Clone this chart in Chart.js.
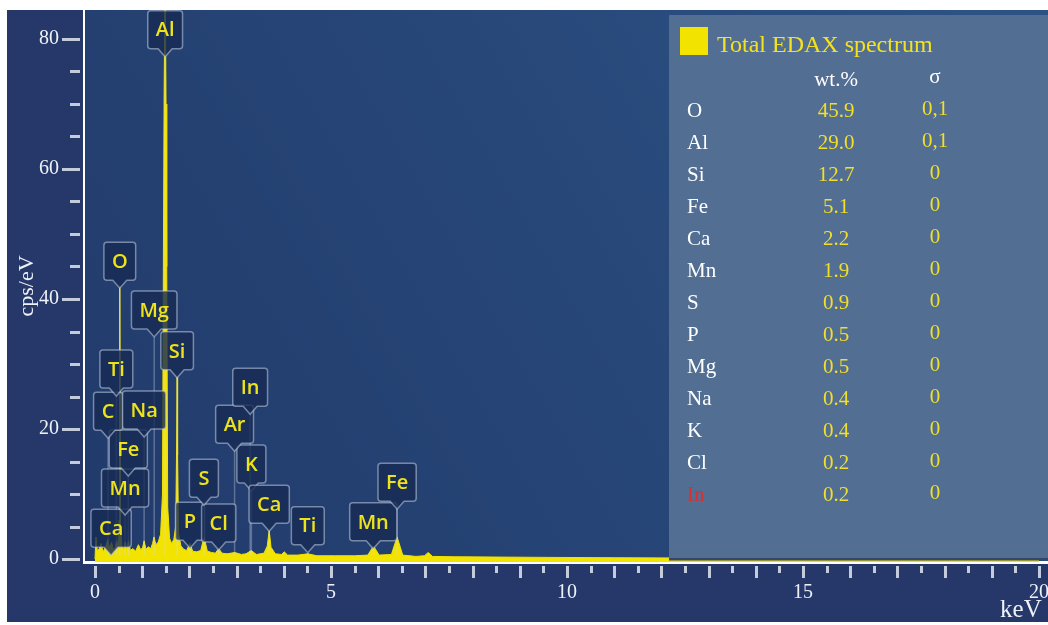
<!DOCTYPE html>
<html>
<head>
<meta charset="utf-8">
<title>Total EDAX spectrum</title>
<script src="https://cdn.jsdelivr.net/npm/chart.js@4.4.1/dist/chart.umd.min.js"></script>
<style>
  html, body { margin: 0; padding: 0; background: #ffffff; }
</style>
</head>
<body>
<canvas id="edaxChart" width="1048" height="625"></canvas>
<script>
// spectrum (keV vs cps/eV)
var energies = [0, 0.02, 0.05, 0.09, 0.13, 0.17, 0.22, 0.27, 0.31, 0.35, 0.39, 0.43, 0.46, 0.49, 0.51, 0.525, 0.54,
  0.57, 0.61, 0.64, 0.67, 0.71, 0.75, 0.80, 0.86, 0.92, 0.97, 1.01, 1.04, 1.08, 1.13, 1.18, 1.22, 1.25, 1.29,
  1.34, 1.39, 1.43, 1.45, 1.465, 1.486, 1.505, 1.52, 1.54, 1.58, 1.62, 1.67, 1.71, 1.73, 1.74, 1.75, 1.77,
  1.82, 1.88, 1.94, 2.01, 2.07, 2.15, 2.24, 2.31, 2.38, 2.47, 2.55, 2.62, 2.69, 2.8, 2.96, 3.1, 3.2, 3.31,
  3.42, 3.58, 3.65, 3.69, 3.73, 3.82, 3.95, 4.01, 4.08, 4.3, 4.51, 4.7, 5.1, 5.5, 5.78, 5.9, 6.02, 6.28,
  6.4, 6.52, 6.8, 6.98, 7.06, 7.15, 7.6, 8.5, 9.6, 11, 12.5, 14, 16, 18, 20];
var counts = [0, 3.4, 1.2, 1.6, 2.4, 1.1, 1.8, 3.0, 1.6, 2.6, 1.4, 1.8, 2.8, 2.2, 6, 42, 5,
  2.0, 1.5, 2.6, 1.4, 2.8, 1.3, 1.6, 1.2, 2.2, 1.4, 1.8, 2.8, 1.5, 1.9, 1.6, 2.4, 3.4, 2.2,
  2.6, 3.8, 10, 48, 72, 90, 70, 45, 8, 3.2, 2.4, 3, 5, 18, 28, 16, 4,
  2, 1.5, 1.3, 2.4, 1.2, 1.1, 1.3, 3.4, 1.2, 1.0, 0.9, 1.6, 0.9, 0.8, 1.0, 0.7, 0.8, 1.3,
  0.7, 0.9, 2, 4.4, 1.8, 0.8, 0.7, 1.1, 0.6, 0.6, 0.8, 0.5, 0.5, 0.5, 0.6, 2.0, 0.6, 0.7,
  3.4, 0.6, 0.4, 0.5, 1.0, 0.4, 0.35, 0.3, 0.25, 0.2, 0.15, 0.1, 0.05, 0, 0];

// peak callouts: element, line energy (keV), height of the box bottom (cps/eV)
var peakNames = ['Ca', 'Mn', 'Fe', 'C', 'Na', 'Ti', 'Si', 'Mg', 'O', 'Al', 'P', 'Cl', 'S', 'K', 'Ar', 'In', 'Ca', 'Ti', 'Mn', 'Fe'];
var peakEnergies = [0.341, 0.637, 0.705, 0.277, 1.041, 0.452, 1.740, 1.254, 0.525, 1.486, 2.013, 2.621, 2.307, 3.313, 2.957, 3.287, 3.690, 4.508, 5.895, 6.400];
var peakLevels = [1.8, 8, 14, 19.8, 20, 26.3, 29.1, 35.4, 42.9, 78.5, 2.9, 2.6, 9.5, 11.7, 17.8, 23.5, 5.5, 2.2, 2.8, 8.9];

// quantification table
var tableElements = ['O', 'Al', 'Si', 'Fe', 'Ca', 'Mn', 'S', 'P', 'Mg', 'Na', 'K', 'Cl', 'In'];
var tableWt = ['45.9', '29.0', '12.7', '5.1', '2.2', '1.9', '0.9', '0.5', '0.5', '0.4', '0.4', '0.2', '0.2'];
var tableSigma = ['0,1', '0,1', '0', '0', '0', '0', '0', '0', '0', '0', '0', '0', '0'];

var xTickLabels = [0, 5, 10, 15, 20];
var yTickLabels = [0, 20, 40, 60, 80];

var yellow = '#f2e300';
var serif = "'Liberation Serif', 'Times New Roman', serif";

var spectrum = energies.map(function (e, i) { return { x: e, y: counts[i] }; });

function drawPanel(chart) {
  var ctx = chart.ctx, a = chart.chartArea;
  var px = a.right - 379, py = a.top + 5;
  ctx.save();
  ctx.fillStyle = '#526e93';
  ctx.fillRect(px, py, a.right - px, a.bottom - 4 - py);
  ctx.fillStyle = '#34486c';
  ctx.fillRect(px, a.bottom - 4, a.right - px, 2.5);
  // legend entry
  ctx.fillStyle = yellow;
  ctx.fillRect(px + 11, py + 12, 28, 28);
  ctx.font = '24px ' + serif;
  ctx.textBaseline = 'alphabetic';
  ctx.textAlign = 'left';
  ctx.fillStyle = '#f5e21e';
  ctx.fillText(chart.data.datasets[0].label, px + 48, py + 37);
  // header
  ctx.font = '21px ' + serif;
  ctx.fillStyle = '#ffffff';
  ctx.textAlign = 'center';
  ctx.fillText('wt.%', px + 167, py + 71);
  ctx.fillText('σ', px + 266, py + 68);
  for (var i = 0; i < tableElements.length; i++) {
    var by = py + 102 + i * 32;
    ctx.textAlign = 'left';
    ctx.fillStyle = tableElements[i] === 'In' ? '#d63131' : '#ffffff';
    ctx.fillText(tableElements[i], px + 18, by);
    ctx.textAlign = 'center';
    ctx.fillStyle = '#f2df2a';
    ctx.fillText(tableWt[i], px + 167, by);
    ctx.fillText(tableSigma[i], px + 266, by - 2);
  }
  ctx.restore();
}

function drawCallouts(chart) {
  var ctx = chart.ctx, xs = chart.scales.x, ys = chart.scales.y;
  ctx.save();
  ctx.font = "600 20px 'Open Sans', sans-serif";
  // leader lines first
  ctx.strokeStyle = 'rgba(215,222,235,0.33)';
  ctx.lineWidth = 1.5;
  peakNames.forEach(function (n, i) {
    var cx = xs.getPixelForValue(peakEnergies[i]);
    var by = ys.getPixelForValue(peakLevels[i]);
    ctx.beginPath();
    ctx.moveTo(cx, by + 8);
    ctx.lineTo(cx, ys.getPixelForValue(0.6));
    ctx.stroke();
  });
  peakNames.forEach(function (n, i) {
    var cx = xs.getPixelForValue(peakEnergies[i]);
    var by = ys.getPixelForValue(peakLevels[i]);
    var w = Math.max(ctx.measureText(n).width + 16, 29), h = 38;
    var x0 = cx - w / 2, y0 = by - h, r = 3;
    ctx.beginPath();
    ctx.moveTo(x0 + r, y0);
    ctx.lineTo(x0 + w - r, y0);
    ctx.quadraticCurveTo(x0 + w, y0, x0 + w, y0 + r);
    ctx.lineTo(x0 + w, by - r);
    ctx.quadraticCurveTo(x0 + w, by, x0 + w - r, by);
    ctx.lineTo(cx + 7, by);
    ctx.lineTo(cx, by + 8);
    ctx.lineTo(cx - 7, by);
    ctx.lineTo(x0 + r, by);
    ctx.quadraticCurveTo(x0, by, x0, by - r);
    ctx.lineTo(x0, y0 + r);
    ctx.quadraticCurveTo(x0, y0, x0 + r, y0);
    ctx.closePath();
    ctx.fillStyle = 'rgba(22,42,82,0.8)';
    ctx.fill();
    ctx.strokeStyle = 'rgba(195,205,225,0.55)';
    ctx.lineWidth = 1.5;
    ctx.stroke();
    ctx.fillStyle = '#eee31a';
    ctx.textAlign = 'center';
    ctx.textBaseline = 'middle';
    ctx.fillText(n, cx, y0 + h / 2 + 1);
  });
  ctx.restore();
}

//background, ticks, callouts and the table
var edaxDecor = {
  id: 'edaxDecor',
  beforeDraw: function (chart) {
    var ctx = chart.ctx, a = chart.chartArea;
    ctx.save();
    ctx.fillStyle = '#ffffff';
    ctx.fillRect(0, 0, chart.width, chart.height);
    ctx.fillStyle = '#26386a';
    ctx.fillRect(7, 10, chart.width - 7, chart.height - 13);
    var g = ctx.createLinearGradient(a.left, a.bottom, a.right, a.top);
    g.addColorStop(0, '#213a6b');
    g.addColorStop(1, '#2d5385');
    ctx.fillStyle = g;
    ctx.fillRect(a.left, a.top, a.right - a.left, a.bottom - a.top);
    ctx.restore();
  },
  afterDatasetsDraw: function (chart) {
    drawPanel(chart);
    drawCallouts(chart);
  },
  afterDraw: function (chart) {
    var ctx = chart.ctx, a = chart.chartArea, xs = chart.scales.x, ys = chart.scales.y;
    ctx.save();
    ctx.strokeStyle = 'rgba(214,219,232,0.9)';
    ctx.lineWidth = 3;
    for (var v = 0; v <= 80; v += 5) {
      var y = Math.round(ys.getPixelForValue(v)) + 0.5;
      ctx.beginPath();
      ctx.moveTo(a.left - (v % 20 === 0 ? 22 : 14), y);
      ctx.lineTo(a.left - 4, y);
      ctx.stroke();
    }
    for (var k = 0; k <= 20; k += 0.5) {
      var x = Math.round(xs.getPixelForValue(k)) + 0.5;
      ctx.beginPath();
      ctx.moveTo(x, a.bottom + 4);
      ctx.lineTo(x, a.bottom + (k % 1 === 0 ? 16 : 11));
      ctx.stroke();
    }
    ctx.restore();
  }
};

function noPad(s) {
  s.paddingTop = 0;
  s.paddingBottom = 0;
  s.paddingLeft = 0;
  s.paddingRight = 0;
}

var ctx = document.getElementById('edaxChart').getContext('2d');
var edaxChart = new Chart(ctx, {
  type: 'line',
  data: {
    datasets: [{
      label: 'Total EDAX spectrum',
      data: spectrum,
      borderColor: yellow,
      backgroundColor: yellow,
      borderWidth: 1,
      pointRadius: 0,
      tension: 0,
      fill: 'start'
    }]
  },
  options: {
    responsive: false,
    animation: false,
    devicePixelRatio: 1,
    layout: { padding: { top: 10, left: 0, right: 0, bottom: 0 } },
    plugins: { legend: { display: false }, tooltip: { enabled: false } },
    scales: {
      x: {
        type: 'linear',
        min: -0.233,
        max: 20.19,
        z: 1,
        afterBuildTicks: function (s) { s.ticks = xTickLabels.map(function (v) { return { value: v }; }); },
        afterFit: function (s) { s.height = 63; noPad(s); },
        grid: { display: false, drawTicks: false },
        border: { color: '#ffffff', width: 3 },
        ticks: { color: '#eef1f7', font: { family: serif, size: 20 }, padding: 19, maxRotation: 0, autoSkip: false },
        title: { display: true, text: 'keV ', align: 'end', color: '#eef1f7', font: { family: serif, size: 25 }, padding: { top: 0, bottom: 0 } }
      },
      y: {
        min: -0.46,
        max: 84.46,
        z: 1,
        afterBuildTicks: function (s) { s.ticks = yTickLabels.map(function (v) { return { value: v }; }); },
        afterFit: function (s) { s.width = 84; noPad(s); },
        grid: { display: false, drawTicks: false },
        border: { color: '#ffffff', width: 2 },
        ticks: { color: '#eef1f7', font: { family: serif, size: 20 }, padding: 25 },
        title: { display: true, text: 'cps/eV', color: '#eef1f7', font: { family: serif, size: 22 }, padding: { top: 14, bottom: 0 } }
      }
    }
  },
  plugins: [edaxDecor]
});
</script>
</body>
</html>
